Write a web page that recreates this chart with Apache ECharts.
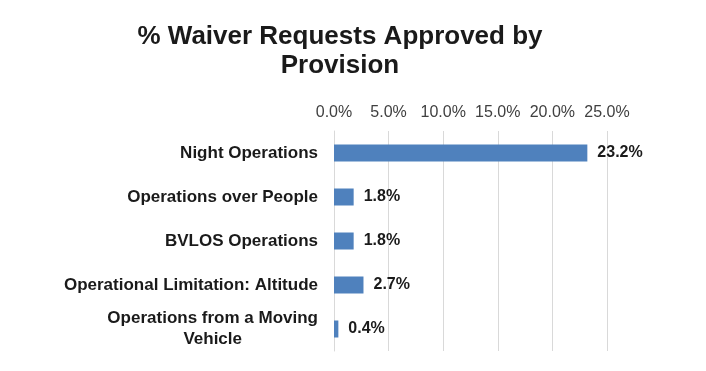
<!DOCTYPE html>
<html>
<head>
<meta charset="utf-8">
<script src="https://cdn.jsdelivr.net/npm/echarts@6/dist/echarts.min.js"></script>
<style>html,body{margin:0;padding:0;background:#fff;}#c{width:706px;height:371px;}</style>
</head>
<body>
<div id="c"></div>
<script>
const categories = ['Night Operations', 'Operations over People', 'BVLOS Operations', 'Operational Limitation: Altitude', 'Operations from a Moving\nVehicle'];
const values = [23.2, 1.8, 1.8, 2.7, 0.4];
const tickValues = [0, 5, 10, 15, 20, 25];

const chart = echarts.init(document.getElementById('c'), null, {renderer: 'canvas'});
chart.setOption({
  backgroundColor: '#ffffff',
  animation: false,
  title: {
    text: '% Waiver Requests Approved by\nProvision',
    left: 335,
    top: 17,
    textAlign: 'center',
    textStyle: {fontFamily: 'Liberation Sans, Arial, sans-serif', fontSize: 26, fontWeight: 'bold', color: '#1a1a1a', lineHeight: 29}
  },
  grid: {left: 334, right: 99, top: 131, bottom: 20, containLabel: false},
  xAxis: {
    type: 'value',
    position: 'top',
    min: tickValues[0],
    max: tickValues[tickValues.length - 1],
    interval: 5,
    axisLine: {show: false},
    axisTick: {show: false},
    axisLabel: {
      margin: 10,
      fontFamily: 'Liberation Sans, Arial, sans-serif',
      fontSize: 16,
      color: '#404040',
      formatter: v => v.toFixed(1) + '%'
    },
    splitLine: {show: true, lineStyle: {color: '#d9d9d9', width: 1}}
  },
  yAxis: {
    type: 'category',
    data: categories,
    inverse: true,
    axisLine: {show: true, lineStyle: {color: '#d9d9d9'}},
    axisTick: {show: false},
    axisLabel: {
      margin: 16,
      formatter: v => v.split('\n').map(s => '{c|' + s + '}').join('\n'),
      rich: {
        c: {fontFamily: 'Liberation Sans, Arial, sans-serif', fontSize: 17, fontWeight: 'bold', color: '#1a1a1a', align: 'center', lineHeight: 21}
      }
    }
  },
  series: [{
    type: 'bar',
    data: values,
    barWidth: 17,
    itemStyle: {color: '#4f81bd'},
    label: {
      show: true,
      position: 'right',
      distance: 10,
      fontFamily: 'Liberation Sans, Arial, sans-serif',
      fontSize: 16,
      fontWeight: 'bold',
      color: '#1a1a1a',
      formatter: p => p.value.toFixed(1) + '%'
    }
  }]
});
</script>
</body>
</html>
